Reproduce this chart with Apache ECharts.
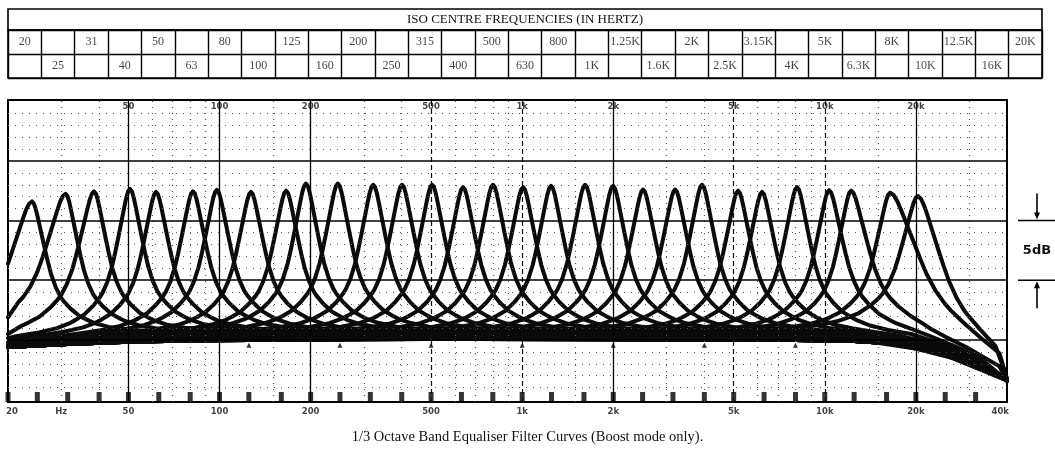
<!DOCTYPE html>
<html><head><meta charset="utf-8">
<script src="https://cdn.jsdelivr.net/npm/echarts@6/dist/echarts.min.js"></script>
<style>html,body{margin:0;padding:0;background:#fff}#c{width:1055px;height:452px}</style>
</head><body><div id="c"></div>
<script>
// ---- table (ISO centre frequencies) ----
const isoLabels = ['20','25','31','40','50','63','80','100','125','160','200','250','315','400','500','630','800','1K','1.25K','1.6K','2K','2.5K','3.15K','4K','5K','6.3K','8K','10K','12.5K','16K','20K'];
const tableRows = ['A','B'];
const tableTitle = 'ISO CENTRE FREQUENCIES (IN HERTZ)';
const caption = '1/3 Octave Band Equaliser Filter Curves (Boost mode only).';

// ---- axis furniture ----
const tickHz = [20,25,31.5,40,50,63,80,100,125,160,200,250,315,400,500,630,800,1000,1250,1600,2000,2500,3150,4000,5000,6300,8000,10000,12500,16000,20000,25000,31500];
const markerHz = [125,250,500,1000,2000,4000,8000];
const majorHz = [50,100,200,2000,20000];
const dashHz = [500,1000,5000,10000];
const minorHz = [30,40,60,70,80,90,150,300,400,600,700,800,900,1500,3000,4000,6000,7000,8000,9000,15000,30000];
const majorDb = [0,5,10,15];
const minorDb = [-4,-3,-2,-1,1,2,3,4,6,7,8,9,11,12,13,14,16,17,18,19];
const topLabelHz = [50,100,200,500,1000,2000,5000,10000,20000];
const topLabelText = ['50','100','200','500','1k','2k','5k','10k','20k'];
const bottomLabelHz = [20,30,50,100,200,500,1000,2000,5000,10000,20000,40000];
const bottomLabelText = ['20','Hz','50','100','200','500','1k','2k','5k','10k','20k','40k'];

// ---- filter curves ----
const peakHz = [24,31,38.5,50.6,61.7,81.7,98,127,166,193,246,322,401,504,638,801,1007,1246,1614,1997,2510,3203,3932,5170,6204,8098,10334,12216,16438,20340];
const peakDb = [12.1,12.6,12.7,12.8,12.5,12.5,12.6,12.4,12.5,13.1,13.1,13.0,13.0,13.0,12.8,13.0,12.8,12.9,13.0,12.9,12.6,12.6,13.0,12.5,12.4,12.8,12.6,12.6,12.6,12.5];
const widthLow  = [1.6,1.55,1.2,1,1,1,1,1,1,1,1,1,1,1,1,1,1,1,1,1,1,1,1,1,1,1,1,1,1.1,1.3];
const widthHigh = [1.05,1,1,1,1,1,1,1,1,1,1,1,1,1,1,1,1,1,1,1,1,1,1,1,1,1,1.1,1.3,2.0,1.7];
const startDb = [6.4,1.9,0.5,0.15,-0.2,-0.4,-0.5,-0.55,-0.6,-0.6,-0.6,-0.6,-0.6,-0.6,-0.6,-0.6,-0.6,-0.6,-0.6,-0.6,-0.6,-0.6,-0.6,-0.6,-0.6,-0.6,-0.6,-0.6,-0.6,-0.6];
const endDb = [-3.4,-3.4,-3.4,-3.4,-3.4,-3.4,-3.4,-3.4,-3.4,-3.4,-3.4,-3.4,-3.4,-3.4,-3.4,-3.4,-3.4,-3.4,-3.4,-3.4,-3.4,-3.4,-3.4,-3.4,-3.4,-3.4,-3.4,-3.35,-3.3,-3.2];
const shapeOct  = [0,0.02,0.04,0.06,0.08,0.1,0.13,0.165,0.2,0.25,0.3,0.333,0.4,0.5,0.6,0.667,0.8,1,1.25,1.5,2,2.5,3,4,5];
const shapeFrac = [1,0.985,0.945,0.89,0.83,0.77,0.68,0.58,0.49,0.395,0.328,0.297,0.247,0.19,0.155,0.135,0.108,0.085,0.068,0.055,0.04,0.03,0.02,0.01,0.005];
const baseHz = [20,31.5,50,80,125,8000,12500,16000,20000,25000,31500,40000];
const baseDb = [-0.6,-0.35,-0.15,-0.05,0,0,-0.1,-0.25,-0.4,-1.1,-2.0,-3.4];

function baseAt(f){
  const lf = Math.log10(f);
  for (let j=0;j<baseHz.length-1;j++){
    const a=Math.log10(baseHz[j]), b=Math.log10(baseHz[j+1]);
    if (lf<=b){ const t=Math.max(0,(lf-a)/(b-a)); return baseDb[j]+t*(baseDb[j+1]-baseDb[j]); }
  }
  return baseDb[baseDb.length-1];
}
const curves = peakHz.map((pk,i)=>{
  const shape=[];
  for (let k=shapeOct.length-1;k>0;k--) shape.push([-shapeOct[k]*widthLow[i], shapeFrac[k]]);
  for (let k=0;k<shapeOct.length;k++) shape.push([shapeOct[k]*widthHigh[i], shapeFrac[k]]);
  const sp = shape.map(([o,fr])=>{ const f=pk*Math.pow(2,o); return [f, peakDb[i]*fr+baseAt(f)]; });
  const fLo = sp[0][0], fHi = sp[sp.length-1][0];
  let pts = sp.filter(p=>p[0]>20.5 && p[0]<39000);
  baseHz.forEach((h,j)=>{ if (h>20 && h<40000 && (h<fLo || h>fHi)) pts.push([h, baseDb[j]]); });
  pts.sort((a,b)=>a[0]-b[0]);
  return [[20,startDb[i]], ...pts, [40000,endDb[i]]];
});

const Y_MIN=-5.2, Y_MAX=20.1;
const chart = echarts.init(document.getElementById('c'), null, {renderer:'canvas'});
const lineData = [
  ...majorHz.map(v=>({xAxis:v, lineStyle:{type:'solid', width:1.3, color:'#000'}})),
  ...dashHz.map(v=>({xAxis:v, lineStyle:{type:[5,3], width:1.2, color:'#111'}})),
  ...minorHz.map(v=>({xAxis:v, lineStyle:{type:[1,5], width:1.2, color:'#555'}})),
  ...majorDb.map(v=>({yAxis:v, lineStyle:{type:'solid', width:1.6, color:'#000'}})),
  ...minorDb.map(v=>({yAxis:v, lineStyle:{type:[1,6], width:1.2, color:'#555'}}))
];
const hidden = {axisLine:{show:false},axisTick:{show:false},axisLabel:{show:false},splitLine:{show:false}};
const series = [
  {type:'line', xAxisIndex:0, yAxisIndex:0, data:[], z:1, silent:true,
   markLine:{silent:true, symbol:['none','none'], label:{show:false}, animation:false, data:lineData}},
  ...curves.map(c=>({type:'line', xAxisIndex:0, yAxisIndex:0, data:c, showSymbol:false, smooth:false,
    lineStyle:{width:4, color:'#0b0b0b', join:'round', cap:'round'}, z:3, silent:true, clip:true})),
  {type:'scatter', xAxisIndex:0, yAxisIndex:0, clip:false, symbol:'rect', symbolSize:[5,10], symbolOffset:[0,'-50%'],
   itemStyle:{color:'#000'}, z:4, silent:true, data:tickHz.map(h=>[h,Y_MIN])},
  {type:'scatter', xAxisIndex:0, yAxisIndex:0, clip:false, symbol:'triangle', symbolSize:[5,5],
   itemStyle:{color:'#000'}, z:4, silent:true, data:markerHz.map(h=>[h,-0.45])},
  {type:'scatter', xAxisIndex:0, yAxisIndex:0, clip:false, symbolSize:0, z:5, silent:true,
   label:{show:true, position:'bottom', distance:2, formatter:p=>p.name, fontFamily:'DejaVu Sans', fontWeight:'bold', fontSize:8.5, color:'#111'},
   data:topLabelHz.map((h,i)=>({name:topLabelText[i], value:[h,Y_MAX]}))},
  {type:'scatter', xAxisIndex:0, yAxisIndex:0, clip:false, symbolSize:0, z:5, silent:true,
   label:{show:true, position:'bottom', distance:5, formatter:p=>p.name, fontFamily:'DejaVu Sans', fontWeight:'bold', fontSize:8.5, color:'#111'},
   data:bottomLabelHz.map((h,i)=>{
     const d={name:bottomLabelText[i], value:[h,Y_MIN]};
     if (i===0) d.label={align:'left', offset:[-2,0]};
     if (i===bottomLabelHz.length-1) d.label={align:'right', offset:[2,0]};
     return d;})},
  {type:'scatter', xAxisIndex:1, yAxisIndex:1, symbolSize:0, silent:true,
   label:{show:true, position:'inside', formatter:p=>p.name, fontFamily:'Liberation Serif', fontSize:12, color:'#111'},
   data:isoLabels.map((t,i)=>({name:t, value:[i, tableRows[i%2]]}))}
];

chart.setOption({
  animation:false,
  backgroundColor:'#fff',
  title:[
    {text:tableTitle, left:525, textAlign:'center', top:13, padding:0, textStyle:{fontFamily:'Liberation Serif', fontWeight:'normal', fontSize:13, color:'#111'}},
    {text:caption, left:'center', top:430, padding:0, textStyle:{fontFamily:'Liberation Serif', fontWeight:'normal', fontSize:14.5, color:'#111'}}
  ],
  grid:[
    {left:8, right:48, top:100, bottom:50, show:true, borderColor:'#000', borderWidth:2, backgroundColor:'transparent', outerBoundsMode:'none'},
    {left:8, right:13, top:30, height:48, show:true, borderColor:'#000', borderWidth:1.6, backgroundColor:'transparent', outerBoundsMode:'none'},
    {left:8, right:13, top:9, height:21, show:true, borderColor:'#000', borderWidth:1.6, backgroundColor:'transparent', outerBoundsMode:'none'}
  ],
  xAxis:[
    Object.assign({type:'log', logBase:10, min:20, max:40000, gridIndex:0}, hidden),
    {type:'category', gridIndex:1, data:isoLabels.map((t,i)=>String(i)), boundaryGap:true,
     axisLine:{show:false}, axisTick:{show:false}, axisLabel:{show:false},
     splitLine:{show:true, interval:0, lineStyle:{color:'#000', width:1.4}}},
    Object.assign({type:'value', gridIndex:2, min:0, max:1}, hidden)
  ],
  yAxis:[
    Object.assign({type:'value', min:Y_MIN, max:Y_MAX, gridIndex:0}, hidden),
    {type:'category', gridIndex:1, data:tableRows, inverse:true, boundaryGap:true,
     axisLine:{show:false}, axisTick:{show:false}, axisLabel:{show:false},
     splitLine:{show:true, interval:0, lineStyle:{color:'#000', width:1.4}}},
    Object.assign({type:'value', gridIndex:2, min:0, max:1}, hidden)
  ],
  series:series
});

// 5dB annotation on the right, placed from the chart's own scales
const p10 = chart.convertToPixel({gridIndex:0}, [40000,10]);
const p5 = chart.convertToPixel({gridIndex:0}, [40000,5]);
const ax = p10[0]+30, x0 = p10[0]+11, x1 = p10[0]+48;
const st = {stroke:'#000', lineWidth:1.6};
chart.setOption({graphic:[
  {type:'line', shape:{x1:x0,y1:p10[1],x2:x1,y2:p10[1]}, style:st},
  {type:'line', shape:{x1:x0,y1:p5[1],x2:x1,y2:p5[1]}, style:st},
  {type:'line', shape:{x1:ax,y1:p10[1]-27,x2:ax,y2:p10[1]-4}, style:st},
  {type:'polygon', shape:{points:[[ax-3,p10[1]-8],[ax+3,p10[1]-8],[ax,p10[1]-1]]}, style:{fill:'#000'}},
  {type:'line', shape:{x1:ax,y1:p5[1]+28,x2:ax,y2:p5[1]+4}, style:st},
  {type:'polygon', shape:{points:[[ax-3,p5[1]+8],[ax+3,p5[1]+8],[ax,p5[1]+1]]}, style:{fill:'#000'}},
  {type:'text', x:ax, y:(p10[1]+p5[1])/2, style:{text:'5dB', fill:'#111', font:'bold 13px "DejaVu Sans"', textAlign:'center', textVerticalAlign:'middle'}}
]});
</script></body></html>
